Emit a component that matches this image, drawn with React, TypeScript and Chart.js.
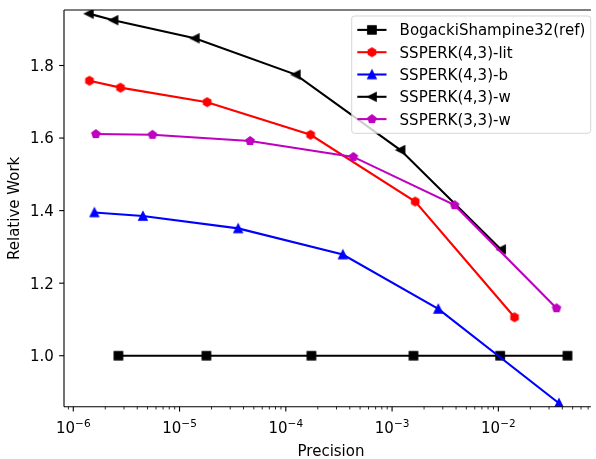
import { useEffect, useRef } from 'react';
import { Chart, registerables } from 'chart.js';

Chart.register(...registerables);

// Precision (x) and relative work (y) for each integrator
const refPrecision = [2.66e-6, 1.79e-5, 1.74e-4, 1.59e-3, 1.04e-2, 4.47e-2];
const refWork = [1.0, 1.0, 1.0, 1.0, 1.0, 1.0];

const litPrecision = [1.42e-6, 2.78e-6, 1.82e-5, 1.71e-4, 1.65e-3, 1.42e-2];
const litWork = [1.758, 1.739, 1.699, 1.609, 1.425, 1.106];

const bPrecision = [1.58e-6, 4.52e-6, 3.56e-5, 3.44e-4, 2.72e-3, 3.72e-2];
const bWork = [1.395, 1.385, 1.351, 1.279, 1.129, 0.869];

const w43Precision = [1.40e-6, 2.39e-6, 1.39e-5, 1.24e-4, 1.20e-3, 1.06e-2];
const w43Work = [1.943, 1.925, 1.875, 1.775, 1.567, 1.293];

const w33Precision = [1.63e-6, 5.56e-6, 4.61e-5, 4.32e-4, 3.88e-3, 3.53e-2];
const w33Work = [1.611, 1.609, 1.592, 1.548, 1.415, 1.131];

const seriesLabels = [
  'BogackiShampine32(ref)',
  'SSPERK(4,3)-lit',
  'SSPERK(4,3)-b',
  'SSPERK(4,3)-w',
  'SSPERK(3,3)-w',
];
const seriesColors = ['#000000', '#ff0000', '#0000ff', '#000000', '#bf00bf'];
const seriesMarkers = ['square', 'hexagon', 'triangleUp', 'triangleLeft', 'pentagon'];

const xDecades = [-6, -5, -4, -3, -2];
const yTicks = [1.0, 1.2, 1.4, 1.6, 1.8];

const X_MIN = Math.pow(10, -6.0873);
const X_MAX = Math.pow(10, -1.1477);
const Y_MIN = 0.8595;
const Y_MAX = 1.953;

const FONT = 'DejaVu Sans';
const FS = 15;

function markerCanvas(kind: string, color: string): HTMLCanvasElement {
  const c = document.createElement('canvas');
  c.width = 14;
  c.height = 14;
  const g = c.getContext('2d')!;
  const h = 4.17;
  const cx = 7;
  const cy = 7;
  g.beginPath();
  if (kind === 'square') {
    g.rect(cx - h, cy - h, 2 * h, 2 * h);
  } else if (kind === 'triangleUp') {
    g.moveTo(cx, cy - h);
    g.lineTo(cx - h, cy + h);
    g.lineTo(cx + h, cy + h);
    g.closePath();
  } else if (kind === 'triangleLeft') {
    g.moveTo(cx - h, cy);
    g.lineTo(cx + h, cy - h);
    g.lineTo(cx + h, cy + h);
    g.closePath();
  } else {
    const n = kind === 'pentagon' ? 5 : 6;
    for (let i = 0; i < n; i++) {
      const a = -Math.PI / 2 + (i * 2 * Math.PI) / n;
      const px = cx + h * Math.cos(a);
      const py = cy + h * Math.sin(a);
      if (i === 0) g.moveTo(px, py);
      else g.lineTo(px, py);
    }
    g.closePath();
  }
  g.fillStyle = color;
  g.fill();
  g.lineWidth = 1.39;
  g.strokeStyle = color;
  g.lineJoin = 'miter';
  g.stroke();
  return c;
}

function pairs(xs: number[], ys: number[]) {
  return xs.map((x, i) => ({ x, y: ys[i] }));
}

export default function App() {
  const canvasRef = useRef<HTMLCanvasElement | null>(null);

  useEffect(() => {
    const canvas = canvasRef.current;
    if (!canvas) return;

    const markers = seriesMarkers.map((m, i) => markerCanvas(m, seriesColors[i]));
    const xs = [refPrecision, litPrecision, bPrecision, w43Precision, w33Precision];
    const ys = [refWork, litWork, bWork, w43Work, w33Work];
    const drawOrder = [4, 3, 2, 1, 0];

    const axesPlugin = {
      id: 'mplAxes',
      afterDraw(chart: any) {
        const ctx: CanvasRenderingContext2D = chart.ctx;
        const area = chart.chartArea;
        const xs_ = chart.scales.x;
        const ys_ = chart.scales.y;
        ctx.save();

        // spines
        ctx.strokeStyle = '#000';
        ctx.lineWidth = 1.1;
        ctx.beginPath();
        ctx.moveTo(area.left, area.top);
        ctx.lineTo(area.left, area.bottom);
        ctx.moveTo(area.left, area.bottom);
        ctx.lineTo(area.right + 2, area.bottom);
        ctx.moveTo(area.left, area.top);
        ctx.lineTo(area.right + 2, area.top);
        ctx.stroke();

        // x ticks (major and minor on a log scale)
        for (let e = -7; e <= -1; e++) {
          for (let m = 1; m <= 9; m++) {
            const v = m * Math.pow(10, e);
            if (v < X_MIN || v > X_MAX) continue;
            const px = xs_.getPixelForValue(v);
            const major = m === 1;
            ctx.lineWidth = major ? 1.1 : 0.83;
            ctx.beginPath();
            ctx.moveTo(px, area.bottom);
            ctx.lineTo(px, area.bottom + (major ? 4.86 : 2.78));
            ctx.stroke();
          }
        }

        // x tick labels 10^n
        ctx.fillStyle = '#000';
        ctx.textBaseline = 'alphabetic';
        ctx.textAlign = 'left';
        for (const e of xDecades) {
          const px = xs_.getPixelForValue(Math.pow(10, e));
          ctx.font = `${FS}px "${FONT}"`;
          const base = '10';
          const wb = ctx.measureText(base).width;
          ctx.font = `${FS * 0.7}px "${FONT}"`;
          const sup = '\u2212' + String(Math.abs(e));
          const ws = ctx.measureText(sup).width;
          const start = px - (wb + ws) / 2;
          ctx.font = `${FS}px "${FONT}"`;
          ctx.fillText(base, start, 432.8);
          ctx.font = `${FS * 0.7}px "${FONT}"`;
          ctx.fillText(sup, start + wb, 426.6);
        }

        // y ticks and labels
        ctx.font = `${FS}px "${FONT}"`;
        ctx.textAlign = 'right';
        for (const v of yTicks) {
          const py = ys_.getPixelForValue(v);
          ctx.lineWidth = 1.1;
          ctx.beginPath();
          ctx.moveTo(area.left - 4.86, py);
          ctx.lineTo(area.left, py);
          ctx.stroke();
          ctx.fillText(v.toFixed(1), area.left - 10.2, py + 5.4);
        }

        // axis titles
        ctx.textAlign = 'center';
        ctx.fillText('Precision', 331, 455.6);
        ctx.save();
        ctx.translate(18.6, (area.top + area.bottom) / 2);
        ctx.rotate(-Math.PI / 2);
        ctx.fillText('Relative Work', 0, 0);
        ctx.restore();

        // legend
        const lx = 351.7;
        const ly = 16;
        const lw = 239;
        const lh = 117.3;
        const r = 2.8;
        ctx.beginPath();
        ctx.moveTo(lx + r, ly);
        ctx.lineTo(lx + lw - r, ly);
        ctx.arcTo(lx + lw, ly, lx + lw, ly + r, r);
        ctx.lineTo(lx + lw, ly + lh - r);
        ctx.arcTo(lx + lw, ly + lh, lx + lw - r, ly + lh, r);
        ctx.lineTo(lx + r, ly + lh);
        ctx.arcTo(lx, ly + lh, lx, ly + lh - r, r);
        ctx.lineTo(lx, ly + r);
        ctx.arcTo(lx, ly, lx + r, ly, r);
        ctx.closePath();
        ctx.fillStyle = 'rgba(255,255,255,0.8)';
        ctx.fill();
        ctx.strokeStyle = 'rgba(204,204,204,0.8)';
        ctx.lineWidth = 1;
        ctx.stroke();

        ctx.textAlign = 'left';
        ctx.font = `${FS}px "${FONT}"`;
        seriesLabels.forEach((label, i) => {
          const cy = 29.9 + i * 22.3;
          ctx.strokeStyle = seriesColors[i];
          ctx.lineWidth = 2.08;
          ctx.beginPath();
          ctx.moveTo(357.3, cy);
          ctx.lineTo(386.5, cy);
          ctx.stroke();
          const mk = markers[i];
          ctx.drawImage(mk, 371.9 - mk.width / 2, cy - mk.height / 2);
          ctx.fillStyle = '#000';
          ctx.fillText(label, 399.6, cy + 5.4);
        });

        ctx.restore();
      },
    };

    const chart = new Chart(canvas, {
      type: 'line',
      data: {
        datasets: seriesLabels.map((label, i) => ({
          label,
          data: pairs(xs[i], ys[i]),
          borderColor: seriesColors[i],
          backgroundColor: seriesColors[i],
          borderWidth: 2.08,
          pointStyle: markers[i] as any,
          pointRadius: 5,
          pointHoverRadius: 5,
          tension: 0,
          fill: false,
          clip: 0,
          order: drawOrder[i],
        })),
      },
      options: {
        responsive: false,
        animation: false,
        devicePixelRatio: 1,
        events: [],
        layout: { padding: { left: 64, top: 10, right: 0, bottom: 52.3 } },
        plugins: {
          legend: { display: false },
          tooltip: { enabled: false },
        },
        scales: {
          x: {
            type: 'logarithmic',
            display: false,
            min: X_MIN,
            max: X_MAX,
            bounds: 'data',
          },
          y: {
            type: 'linear',
            display: false,
            min: Y_MIN,
            max: Y_MAX,
            bounds: 'data',
          },
        },
      },
      plugins: [axesPlugin],
    });

    return () => chart.destroy();
  }, []);

  return (
    <div style={{ position: 'fixed', left: 0, top: 0, width: 596, height: 459, background: '#fff' }}>
      <canvas ref={canvasRef} width={596} height={459} style={{ display: 'block' }} />
    </div>
  );
}
